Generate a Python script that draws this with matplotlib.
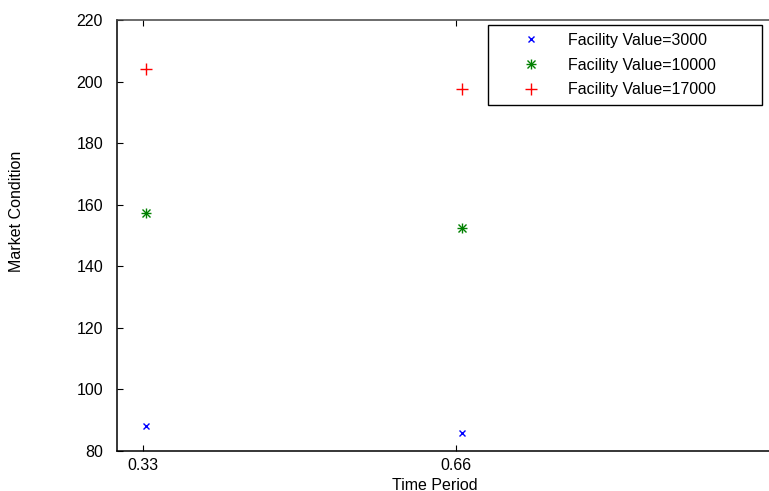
import matplotlib
matplotlib.use('Agg')
import matplotlib.pyplot as plt
from matplotlib.legend_handler import HandlerTuple

# data
time_period = [1 / 3, 2 / 3]
fv_3000 = [88.2, 85.7]
fv_10000 = [157.3, 152.5]
fv_17000 = [204.0, 197.5]

x_ticks = [0.33, 0.66]
x_ticklabels = ['0.33', '0.66']
y_ticks = [80, 100, 120, 140, 160, 180, 200, 220]

plt.rcParams['font.family'] = ['Liberation Sans', 'DejaVu Sans']
FS = 11.5

W, H = 769, 491
fig = plt.figure(figsize=(W / 100, H / 100), dpi=100)
# axes run past the right edge of the picture, like the reference
left, right, top, bottom = 117, 778.5, 20, 451
ax = fig.add_axes([left / W, 1 - bottom / H, (right - left) / W, (bottom - top) / H])

blue = (0, 0, 1)
green = (0, 0.5, 0)
red = (1, 0, 0)

h1, = ax.plot(time_period, fv_3000, ls='none', marker='x', ms=4.5, mew=1.0, color=blue)
# asterisk = plus + cross
g1, = ax.plot(time_period, fv_10000, ls='none', marker='+', ms=7.5, mew=1.0, color=green)
g2, = ax.plot(time_period, fv_10000, ls='none', marker='x', ms=5.5, mew=1.0, color=green)
h3, = ax.plot(time_period, fv_17000, ls='none', marker='+', ms=9, mew=1.0, color=red)

ax.set_xlim(0.3026, 1.0)
ax.set_ylim(80, 220)
ax.set_xticks(x_ticks)
ax.set_xticklabels(x_ticklabels)
ax.set_yticks(y_ticks)

ax.tick_params(direction='in', length=4, width=0.8, labelsize=FS, top=True, right=False)
ax.tick_params(axis='y', pad=10)
ax.tick_params(axis='x', pad=5)
for s in ax.spines.values():
    s.set_linewidth(1.1)
    s.set_color('black')
ax.spines['top'].set_color('#444444')

ax.set_xlabel('Time Period', fontsize=FS)
ax.set_ylabel('Market Condition', fontsize=FS)
ax.xaxis.set_label_coords(0.481, -0.0626)
ax.yaxis.set_label_coords(-0.1406, 0.555)

leg = ax.legend([h1, (g1, g2), h3],
                ['Facility Value=3000', 'Facility Value=10000', 'Facility Value=17000'],
                handler_map={tuple: HandlerTuple(ndivide=1)},
                loc='upper left', mode='expand',
                bbox_to_anchor=(488 / W, 1 - 103 / H, 274 / W, 78 / H),
                bbox_transform=fig.transFigure, borderaxespad=0,
                fancybox=False, edgecolor='black', framealpha=1,
                fontsize=FS, handlelength=4.4, handletextpad=0.1,
                labelspacing=0.6, borderpad=0.5)
leg.get_frame().set_linewidth(1.0)

fig.savefig('out.png', dpi=100)
